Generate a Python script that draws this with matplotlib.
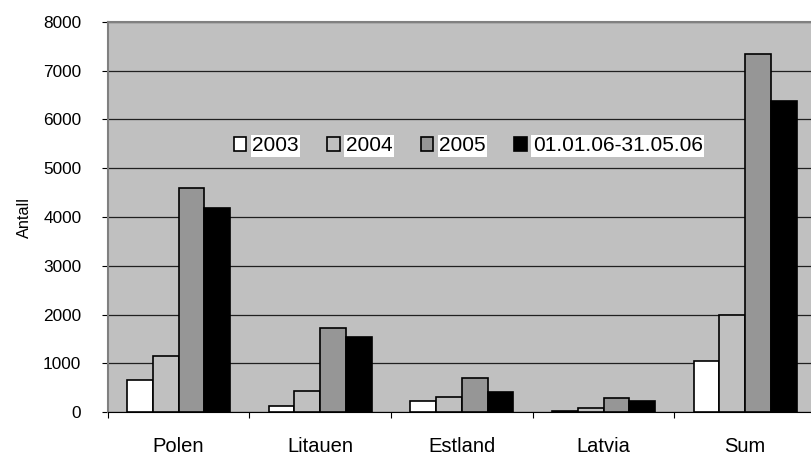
import numpy as np
import matplotlib.pyplot as plt

plt.rcParams['font.family'] = ['Liberation Sans', 'DejaVu Sans']

categories = ['Polen', 'Litauen', 'Estland', 'Latvia', 'Sum']
series = ['2003', '2004', '2005', '01.01.06-31.05.06']
v2003 = [660, 130, 230, 35, 1055]
v2004 = [1150, 440, 320, 80, 1990]
v2005 = [4600, 1725, 710, 300, 7335]
v2006 = [4180, 1540, 420, 230, 6370]
values = [v2003, v2004, v2005, v2006]
colors = ['white', '#C0C0C0', '#969696', 'black']

fig = plt.figure(figsize=(8.11, 4.55), dpi=100)
ax = fig.add_axes([0.1328, 0.0938, 0.8734, 0.8585])
ax.set_facecolor('#C0C0C0')

x = np.arange(len(categories))
w = 0.1815
for i, (name, vals) in enumerate(zip(series, values)):
    ax.bar(x + (i - 1.5) * w, vals, w, color=colors[i], edgecolor='black',
           linewidth=1.2, label=name, zorder=3)

ax.set_xlim(-0.5, len(categories) - 0.5)
ax.set_ylim(0, 8000)
ax.set_yticks(np.arange(0, 8001, 1000))
ax.yaxis.grid(True, color='#202020', linewidth=0.9, zorder=0)
ax.set_axisbelow(True)

ax.set_xticks(np.arange(-0.5, len(categories), 1.0))
ax.set_xticklabels([])
ax.set_xticks(x, minor=True)
ax.set_xticklabels(categories, minor=True, fontsize=14.5)
ax.tick_params(axis='x', which='major', direction='out', length=4, color='black')
ax.tick_params(axis='x', which='minor', length=0, pad=18)
ax.tick_params(axis='y', direction='out', length=4, pad=15, labelsize=12.4, color='black')

ax.set_ylabel('Antall', fontsize=11.7, labelpad=8)

for s in ['top', 'left']:
    ax.spines[s].set_color('#808080')
    ax.spines[s].set_linewidth(1.5)
ax.spines['right'].set_visible(False)
ax.spines['bottom'].set_color('black')

leg = ax.legend(loc='center left', bbox_to_anchor=(0.163, 0.682), ncol=4,
                frameon=False, fontsize=15, handlelength=0.6, handleheight=0.6,
                handletextpad=0.3, columnspacing=1.35, borderpad=0)
for t in leg.get_texts():
    t.set_bbox(dict(facecolor='white', edgecolor='none', pad=1))

fig.savefig('out.png', dpi=100)
